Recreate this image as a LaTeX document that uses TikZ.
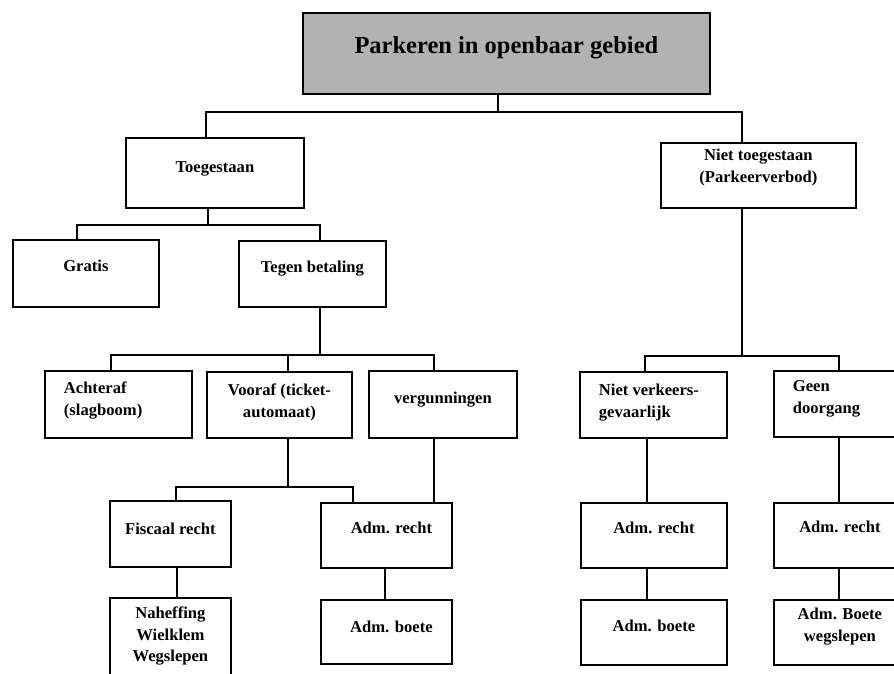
\documentclass[tikz,border=0pt]{standalone}
\usepackage{fontspec}
\setmainfont{Liberation Serif}

% box content: #1 alignment, #2 width, #3 height, #4 first baseline depth, #5 text
\newcommand{\cellbox}[5]{%
  \parbox[c][#3pt][t]{#2pt}{#1\rule{0pt}{#4pt}#5}}
\newcommand{\ctr}{\centering}
\newcommand{\lft}{\raggedright\leftskip=19pt\relax}

\begin{document}
\begin{tikzpicture}[x=1pt, y=-1pt,
  box/.style={draw, line width=1.8pt, inner sep=0pt, anchor=north west,
    font=\fontsize{16.6}{21.5}\selectfont\bfseries},
  titlebox/.style={box, fill=black!30, font=\fontsize{24.5}{28}\selectfont\bfseries},
  conn/.style={line width=1.6pt}]
\path[use as bounding box, clip] (0,0) rectangle (894,674);

% boxes
\node[titlebox] (top) at (302,12) {\cellbox{\ctr}{407}{81}{41}{Parkeren in openbaar gebied}};

\node[box] (toeg) at (125,137) {\cellbox{\ctr}{178}{70}{35}{Toegestaan}};
\node[box] (niet) at (660,142) {\cellbox{\ctr}{195}{65}{18}{Niet toegestaan\\(Parkeerverbod)}};

\node[box] (gratis) at (12,239) {\cellbox{\ctr}{146}{67}{32}{Gratis}};
\node[box] (tegen) at (238,240) {\cellbox{\ctr}{147}{66}{32}{Tegen betaling}};

\node[box] (achter) at (44,370) {\cellbox{\lft}{147}{67}{23}{Achteraf\\(slagboom)}};
\node[box] (vooraf) at (206,371) {\cellbox{\ctr}{145}{66}{24}{Vooraf (ticket-\\automaat)}};
\node[box] (verg) at (368,370) {\cellbox{\ctr}{148}{67}{33}{vergunningen}};

\node[box] (fisc) at (109,500) {\cellbox{\ctr}{121}{66}{34}{Fiscaal recht}};
\node[box] (admr1) at (320,502) {\cellbox{\ctr}{131}{65}{31}{\hspace*{10pt}Adm. recht}};
\node[box] (nahef) at (109,597) {\cellbox{\ctr}{121}{95}{21}{Naheffing\\Wielklem\\Wegslepen}};
\node[box] (admb1) at (320,599) {\cellbox{\ctr}{131}{64}{33}{\hspace*{10pt}Adm. boete}};

\node[box] (nv) at (579,371) {\cellbox{\lft}{147}{66}{24}{Niet verkeers-\\gevaarlijk}};
\node[box] (geen) at (773,370) {\cellbox{\lft}{132}{66}{21}{Geen\\doorgang}};
\node[box] (admr2) at (580,502) {\cellbox{\ctr}{146}{65}{31}{Adm. recht}};
\node[box] (admr3) at (773,502) {\cellbox{\ctr}{132}{65}{30}{Adm. recht}};
\node[box] (admb2) at (580,599) {\cellbox{\ctr}{146}{65}{32}{Adm. boete}};
\node[box] (admb3) at (773,599) {\cellbox{\ctr}{132}{65}{20}{Adm. Boete\\wegslepen}};

% connectors
\draw[conn] ([xshift=-8.5pt]top.south) -- ++(0,17) coordinate (j1) -| ([xshift=-9pt]toeg.north);
\draw[conn] (j1) -| ([xshift=-16.5pt]niet.north);

\draw[conn] ([xshift=-7pt]toeg.south) -- ++(0,16) coordinate (j2) -| ([xshift=-9pt]gratis.north);
\draw[conn] (j2) -| ([xshift=7.5pt]tegen.north);

\draw[conn] ([xshift=7.5pt]tegen.south) -- ++(0,47) coordinate (j3) -| ([xshift=-7.5pt]achter.north);
\draw[conn] (j3) -| ([xshift=8.5pt]vooraf.north);
\draw[conn] (j3) -| ([xshift=-9pt]verg.north);

\draw[conn] ([xshift=8.5pt]vooraf.south) -- ++(0,48) coordinate (j4) -| ([xshift=5.5pt]fisc.north);
\draw[conn] (j4) -| ([xshift=-33.5pt]admr1.north);
\draw[conn] ([xshift=-9pt]verg.south) -- ([xshift=47.5pt]admr1.north);

\draw[conn] ([xshift=6.5pt]fisc.south) -- ([xshift=6.5pt]nahef.north);
\draw[conn, line width=2pt] ([xshift=-1.5pt]admr1.south) -- ([xshift=-1.5pt]admb1.north);

\draw[conn] ([xshift=-16.5pt]niet.south) -- ++(0,147) coordinate (j5) -| ([xshift=-8.5pt]nv.north);
\draw[conn] (j5) -| ([xshift=-1pt]geen.north);

\draw[conn] ([xshift=-6.5pt]nv.south) -- ([xshift=-7pt]admr2.north);
\draw[conn] ([xshift=-7pt]admr2.south) -- ([xshift=-7pt]admb2.north);
\draw[conn] ([xshift=-1pt]geen.south) -- ([xshift=-1pt]admr3.north);
\draw[conn] ([xshift=-1pt]admr3.south) -- ([xshift=-1pt]admb3.north);
\end{tikzpicture}
\end{document}
